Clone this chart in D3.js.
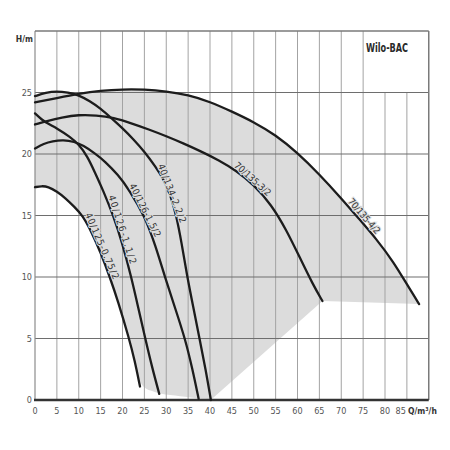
<!DOCTYPE html>
<html>
<head>
  <meta charset="utf-8">
  <script src="https://d3js.org/d3.v7.min.js"></script>
  <style>
    body { margin: 0; background: #fff; }
    text { font-family: "DejaVu Sans Condensed", "Liberation Sans Narrow", "Roboto Condensed", sans-serif; font-stretch: condensed; }
    .tick-label { font-size: 9px; fill: #555; }
    .unit { font-size: 8.5px; font-weight: bold; fill: #333; }
    .curve { fill: none; stroke: #1c1c1c; stroke-width: 2.3px; stroke-linecap: round; stroke-linejoin: round; }
    .curve-label { font-size: 9.5px; fill: #333; paint-order: stroke; stroke: #dcdcdc; stroke-width: 2px; }
  </style>
</head>
<body>
<div id="chart"></div>
<script>
// pump curves, [Q m3/h, H m]
var c075 = [[0,17.3],[1.5,17.4],[3,17.35],[5,16.95],[7,16.4],[9,15.7],[10.9,15],[13,13.6],[15,12.0],[17.1,10],[19,8.0],[21.5,5],[22.8,3.2],[24,1.1]];
var c11  = [[0,23.3],[1.5,22.8],[3,22.45],[5,22.1],[8,21.4],[10,20.8],[12,19.8],[13.7,18.5],[15.5,17.1],[17.9,15],[20,12.7],[22,10],[23.6,7.5],[25.2,5],[26.8,2.6],[28.4,0.5]];
var c15  = [[0,20.45],[2,20.85],[4,21.05],[6.5,21.15],[9,21.0],[11,20.7],[13.7,20.05],[16,19.4],[19,18.3],[21.5,17.1],[25,15],[27.5,12.6],[29.7,10],[32,7.5],[34.3,5],[36,2.5],[37.4,0.1]];
var c22  = [[0,24.7],[2.5,25.0],[5,25.1],[7.5,25.0],[10,24.8],[12.5,24.3],[15,23.7],[17.5,22.9],[20,22.1],[22.5,21.2],[25,20.2],[27.5,19.0],[29.5,17.9],[31,16.6],[32.3,15],[33.5,12.8],[34.7,10.2],[36.2,7.5],[37.6,5],[39,2.5],[40.2,0]];
var c3   = [[0,22.4],[3,22.7],[6,22.95],[10,23.2],[14,23.15],[18,22.95],[22,22.5],[26,22.0],[30,21.45],[34,20.85],[38,20.2],[42,19.5],[46,18.65],[50,17.5],[54,15.9],[57.5,13.8],[60.5,11.6],[63.5,9.4],[65.7,8.05]];
var c4   = [[0,24.2],[5,24.55],[10,24.9],[15,25.15],[20,25.26],[25,25.25],[30,25.1],[35,24.8],[40,24.25],[45,23.45],[50,22.6],[55,21.55],[60,20.1],[65,18.35],[70,16.4],[74,14.75],[78,13.1],[82,11.2],[85,9.4],[87.8,7.8]];

// lower edge of the shaded operating range
var rangeBottom = [[24,1.1],[26.5,0.75],[28.6,0.5],[31,0.4],[33.1,0.3],[35.5,0.2],[37.7,0.12],[40.3,0.05]];
var rangeRight  = [[40.3,0.05],[65.7,8.05],[87.8,7.8]];

var curves = [c075, c11, c15, c22, c3, c4];
var curveNames = ["40/125-0.75/2", "40/126-1.1/2", "40/126-1.5/2", "40/134-2.2/2", "70/135-3/2", "70/135-4/2"];
var xTicks = [0,5,10,15,20,25,30,35,40,45,50,55,60,65,70,75,80,85];
var yTicks = [0,5,10,15,20,25];

// where each name sits along its curve (Q from .. to)
var labelSpan = [[10.9,17.4],[16.2,21.3],[21.0,27.0],[27.5,32.7],[45.0,52.8],[71.0,77.5]];

var width = 450, height = 450;
var svg = d3.select("#chart").append("svg")
    .attr("width", width)
    .attr("height", height);

var x = d3.scaleLinear().domain([0, 90]).range([35, 428.75]);
var y = d3.scaleLinear().domain([0, 30]).range([400, 31]);

var curveLine = d3.line()
    .x(function(d) { return x(d[0]); })
    .y(function(d) { return y(d[1]); })
    .curve(d3.curveBasis);
var straight = d3.line()
    .x(function(d) { return x(d[0]); })
    .y(function(d) { return y(d[1]); });

// shaded range: top envelope, then the edges back round to the left
var envTop = c22.filter(function(d) { return d[0] < 9.5; })
    .concat(c4.filter(function(d) { return d[0] >= 10; }));
var envBack = rangeBottom.slice().reverse().concat(c075.slice(0, -1).reverse());
var areaD = curveLine(envTop)
    + straight(rangeRight.slice().reverse()).replace(/^M/, "L")
    + curveLine(envBack).replace(/^M/, "L") + "Z";
svg.append("path")
    .attr("d", areaD)
    .attr("fill", "#dcdcdc");

// grid
svg.selectAll(".vgrid")
    .data(xTicks.slice(1))
    .enter().append("line")
    .attr("x1", function(d) { return x(d); })
    .attr("x2", function(d) { return x(d); })
    .attr("y1", y(0))
    .attr("y2", function(d) { return d > 75 ? y(25) : y(30); })
    .attr("stroke", "#a3a3a3")
    .attr("stroke-width", 1);

svg.selectAll(".hgrid")
    .data(yTicks.slice(1))
    .enter().append("line")
    .attr("x1", x(0))
    .attr("x2", x(90))
    .attr("y1", function(d) { return y(d); })
    .attr("y2", function(d) { return y(d); })
    .attr("stroke", "#6e6e6e")
    .attr("stroke-width", 1.2);

// frame
svg.append("line").attr("x1", x(0)).attr("x2", x(0)).attr("y1", y(0)).attr("y2", y(30))
    .attr("stroke", "#8c8c8c").attr("stroke-width", 1.2);
svg.append("line").attr("x1", x(0)).attr("x2", x(90)).attr("y1", y(30)).attr("y2", y(30))
    .attr("stroke", "#7a7a7a").attr("stroke-width", 1.5);
svg.append("line").attr("x1", x(90)).attr("x2", x(90)).attr("y1", y(0)).attr("y2", y(30))
    .attr("stroke", "#7a7a7a").attr("stroke-width", 1.5);
svg.append("line").attr("x1", x(0) - 1).attr("x2", x(90)).attr("y1", y(0)).attr("y2", y(0))
    .attr("stroke", "#333").attr("stroke-width", 2.5);

// curves
svg.selectAll(".curve")
    .data(curves)
    .enter().append("path")
    .attr("class", "curve")
    .attr("d", curveLine);

// curve names, rotated along each curve
function hAt(c, q) {
    for (var i = 1; i < c.length; i++) {
        if (q <= c[i][0]) {
            var t = (q - c[i-1][0]) / (c[i][0] - c[i-1][0]);
            return c[i-1][1] + t * (c[i][1] - c[i-1][1]);
        }
    }
    return c[c.length - 1][1];
}
curveNames.forEach(function(name, i) {
    var c = curves[i], s = labelSpan[i];
    var x0 = x(s[0]), y0 = y(hAt(c, s[0]));
    var x1 = x(s[1]), y1 = y(hAt(c, s[1]));
    var ang = Math.atan2(y1 - y0, x1 - x0);
    var len = Math.sqrt((x1 - x0) * (x1 - x0) + (y1 - y0) * (y1 - y0));
    // push off the line to the upper-right side
    var ox = Math.sin(ang) * 2.5, oy = -Math.cos(ang) * 2.5;
    svg.append("text")
        .attr("class", "curve-label")
        .attr("transform", "translate(" + (x0 + ox) + "," + (y0 + oy) + ") rotate(" + (ang * 180 / Math.PI) + ")")
        .attr("textLength", len)
        .attr("lengthAdjust", "spacing")
        .text(name);
});

// tick labels
svg.selectAll(".xlab")
    .data(xTicks)
    .enter().append("text")
    .attr("class", "tick-label")
    .attr("x", function(d) { return d === 85 ? x(d) - 1 : x(d); })
    .attr("y", 414)
    .attr("text-anchor", function(d) { return d === 85 ? "end" : "middle"; })
    .text(function(d) { return d; });

svg.selectAll(".ylab")
    .data(yTicks)
    .enter().append("text")
    .attr("class", "tick-label")
    .attr("x", 32)
    .attr("y", function(d) { return y(d) + 3; })
    .attr("text-anchor", "end")
    .text(function(d) { return d; });

svg.append("text").attr("class", "unit")
    .attr("x", 33).attr("y", 42).attr("text-anchor", "end")
    .text("H/m");
svg.append("text").attr("class", "unit")
    .attr("x", 408).attr("y", 414)
    .text("Q/m³/h");

svg.append("text")
    .attr("x", 366).attr("y", 52)
    .attr("font-size", "13px")
    .attr("font-weight", "bold")
    .attr("fill", "#2a2a2a")
    .attr("textLength", 42)
    .attr("lengthAdjust", "spacingAndGlyphs")
    .text("Wilo-BAC");
</script>
</body>
</html>
